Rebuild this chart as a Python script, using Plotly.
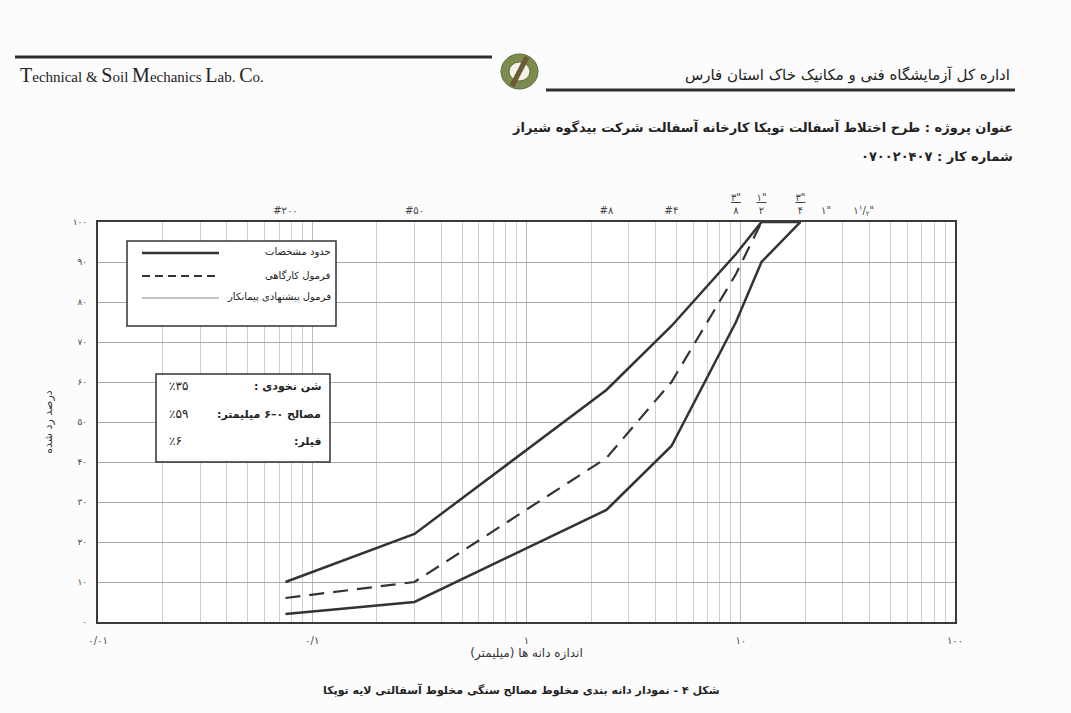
import plotly.graph_objects as go

# ---------------- data ----------------
sieve_mm = [0.075, 0.3, 2.36, 4.75, 9.5, 12.5, 19]
upper_limit = [10, 22, 58, 74, 92, 100, 100]
lower_limit = [2, 5, 28, 44, 75, 90, 100]
job_mix = [6, 10, 41, 60, 87, 100, 100]

x_tick_vals = [0.01, 0.1, 1, 10, 100]
x_tick_text = ["۰/۰۱", "۰/۱", "۱", "۱۰", "۱۰۰"]
y_tick_vals = [0, 10, 20, 30, 40, 50, 60, 70, 80, 90, 100]
y_tick_text = ["۰", "۱۰", "۲۰", "۳۰", "۴۰", "۵۰", "۶۰", "۷۰", "۸۰", "۹۰", "۱۰۰"]

top_sieve_mm = [0.075, 0.3, 2.36, 4.75, 9.5, 12.5, 19, 25, 37.5]
top_sieve_text = ["#۲۰۰", "#۵۰", "#۸", "#۴",
                  "<u>۳\"</u><br>۸", "<u>۱\"</u><br>۲", "<u>۳\"</u><br>۴",
                  "۱\"", "۱<sup>۱</sup>/<sub>۲</sub>\""]

legend_names = ["حدود مشخصات", "فرمول کارگاهی", "فرمول پیشنهادی پیمانکار"]
mix_labels = ["شن نخودی :", "مصالح ۰–۶ میلیمتر:", "فیلر:"]
mix_values = ["٪۳۵", "٪۵۹", "٪۶"]

RLE, PDF = "\u202b", "\u202c"
def rtl(s):
    return RLE + s + PDF

# ---------------- geometry (pixels) ----------------
W, H = 1071, 713
L, R, T, B = 98, 955, 222, 622
def px(x):
    return (x - L) / (R - L)
def py(y):
    return (B - y) / (B - T)

FA = "DejaVu Sans"
INK = "#333333"

fig = go.Figure()
fig.add_trace(go.Scatter(x=sieve_mm, y=upper_limit, mode="lines",
                         line=dict(color=INK, width=2.5), name=legend_names[0],
                         showlegend=False))
fig.add_trace(go.Scatter(x=sieve_mm, y=lower_limit, mode="lines",
                         line=dict(color=INK, width=2.5), name=legend_names[0],
                         showlegend=False))
fig.add_trace(go.Scatter(x=sieve_mm, y=job_mix, mode="lines",
                         line=dict(color=INK, width=2.2, dash="15px,9px"),
                         name=legend_names[1], showlegend=False))
# carrier for the top sieve axis
fig.add_trace(go.Scatter(x=top_sieve_mm, y=[None] * len(top_sieve_mm), xaxis="x2",
                         mode="markers", showlegend=False, hoverinfo="skip"))

fig.update_layout(
    width=W, height=H, autosize=False,
    margin=dict(l=L, r=W - R, t=T, b=H - B),
    paper_bgcolor="#fcfcfc", plot_bgcolor="#ffffff",
    font=dict(family=FA, color=INK),
    xaxis=dict(type="log", range=[-2, 2], tickmode="array",
               tickvals=x_tick_vals, ticktext=x_tick_text,
               tickfont=dict(size=10, color="#444"), ticks="", ticklabelstandoff=8,
               showgrid=True, gridcolor="#b9b9b9", gridwidth=1,
               minor=dict(dtick="D1", showgrid=True, gridcolor="#cdcdd6", gridwidth=1, ticks=""),
               showline=True, linecolor="#3a3a3a", linewidth=2, mirror=True, zeroline=False,
               title=dict(text=rtl("اندازه دانه ها (میلیمتر)"), font=dict(size=12, color="#333"),
                          standoff=0)),
    xaxis2=dict(type="log", range=[-2, 2], overlaying="x", side="top",
                tickmode="array", tickvals=top_sieve_mm, ticktext=top_sieve_text,
                tickfont=dict(size=10, color="#444"), ticks="", ticklabelstandoff=5,
                showgrid=False, zeroline=False, showline=False),
    yaxis=dict(range=[0, 100], tickmode="array", tickvals=y_tick_vals, ticktext=y_tick_text,
               tickfont=dict(size=9, color="#444"), ticks="", ticklabelstandoff=7,
               showgrid=True, gridcolor="#a9a9a9", gridwidth=1.3,
               showline=True, linecolor="#3a3a3a", linewidth=2, mirror=True, zeroline=False,
               title=dict(text=rtl("درصد رد شده"), font=dict(size=11, color="#333"), standoff=18)),
)

shapes = []
annos = []

# ---------------- header ----------------
shapes.append(dict(type="line", xref="paper", yref="paper", x0=px(15), x1=px(492), y0=py(57), y1=py(57),
                   line=dict(color="#2e2e2e", width=3)))
shapes.append(dict(type="line", xref="paper", yref="paper", x0=px(546), x1=px(1015), y0=py(90), y1=py(90),
                   line=dict(color="#2e2e2e", width=3)))
# logo
shapes.append(dict(type="circle", xref="paper", yref="paper", x0=px(501), x1=px(538), y0=py(54), y1=py(89),
                   fillcolor="#7c8c4e", line=dict(color="#5f6b3a", width=1)))
shapes.append(dict(type="circle", xref="paper", yref="paper", x0=px(509), x1=px(530), y0=py(62), y1=py(81),
                   fillcolor="#f4f1e6", line=dict(color="#5f6b3a", width=1)))
shapes.append(dict(type="line", xref="paper", yref="paper", x0=px(512), x1=px(527), y0=py(86), y1=py(57),
                   line=dict(color="#6b5a35", width=5)))

cap = "<span style='font-size:20px'>%s</span>"
annos.append(dict(xref="paper", yref="paper", x=px(18), y=py(75), xanchor="left", yanchor="middle",
                  showarrow=False,
                  text=(cap % "T") + "echnical &amp; " + (cap % "S") + "oil " + (cap % "M") + "echanics "
                       + (cap % "L") + "ab. " + (cap % "C") + "o.",
                  font=dict(family="Liberation Serif", size=15, color="#222")))
annos.append(dict(xref="paper", yref="paper", x=px(1012), y=py(75), xanchor="right", yanchor="middle",
                  showarrow=False, text=rtl("اداره کل آزمایشگاه فنی و مکانیک خاک استان فارس"),
                  font=dict(size=15, color="#222")))
annos.append(dict(xref="paper", yref="paper", x=px(1015), y=py(127), xanchor="right", yanchor="middle",
                  showarrow=False,
                  text="<b>" + rtl("عنوان پروژه : طرح اختلاط آسفالت توپکا کارخانه آسفالت شرکت بیدگوه شیراز") + "</b>",
                  font=dict(size=13, color="#222")))
annos.append(dict(xref="paper", yref="paper", x=px(1015), y=py(157), xanchor="right", yanchor="middle",
                  showarrow=False, text="<b>" + rtl("شماره کار : ۰۷۰۰۲۰۴۰۷") + "</b>",
                  font=dict(size=13, color="#222")))

# caption
annos.append(dict(xref="paper", yref="paper", x=px(521), y=py(690), xanchor="center", yanchor="middle",
                  showarrow=False,
                  text="<b>" + rtl("شکل ۴ - نمودار دانه بندی مخلوط مصالح سنگی مخلوط آسفالتی لایه توپکا") + "</b>",
                  font=dict(size=11, color="#222")))

# ---------------- legend box ----------------
shapes.append(dict(type="rect", xref="paper", yref="paper", x0=px(127), x1=px(336), y0=py(241), y1=py(326),
                   fillcolor="#ffffff", line=dict(color="#333", width=1.5), layer="above"))
leg_y = [253, 276, 298]
leg_style = [dict(color=INK, width=2.5), dict(color=INK, width=2, dash="8px,5px"),
             dict(color="#888", width=1)]
for yy, st, nm in zip(leg_y, leg_style, legend_names):
    shapes.append(dict(type="line", xref="paper", yref="paper", x0=px(142), x1=px(219), y0=py(yy), y1=py(yy),
                       line=st, layer="above"))
    annos.append(dict(xref="paper", yref="paper", x=px(333), y=py(yy - 1), xanchor="right", yanchor="middle",
                      showarrow=False, text=rtl(nm), font=dict(size=10, color="#222")))

# ---------------- mix box ----------------
shapes.append(dict(type="rect", xref="paper", yref="paper", x0=px(156), x1=px(330), y0=py(374), y1=py(462),
                   fillcolor="#ffffff", line=dict(color="#333", width=1.5), layer="above"))
for yy, lab, val in zip([386, 414, 441], mix_labels, mix_values):
    annos.append(dict(xref="paper", yref="paper", x=px(323), y=py(yy), xanchor="right", yanchor="middle",
                      showarrow=False, text="<b>" + rtl(lab) + "</b>", font=dict(size=11, color="#222")))
    annos.append(dict(xref="paper", yref="paper", x=px(167), y=py(yy), xanchor="left", yanchor="middle",
                      showarrow=False, text=val, font=dict(size=12, color="#222")))

fig.update_layout(shapes=shapes, annotations=annos)
fig.write_html("out.html")
